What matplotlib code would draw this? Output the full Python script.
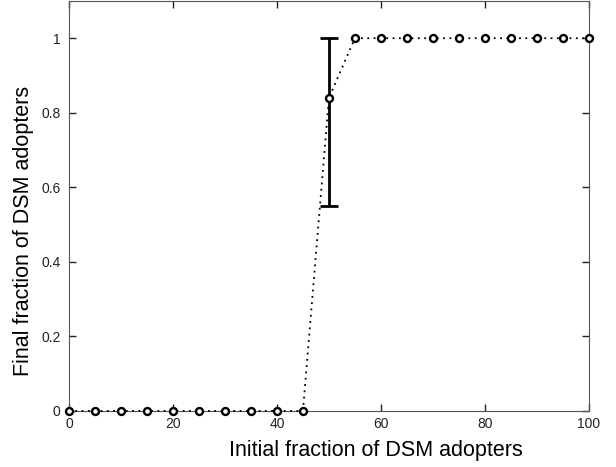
import matplotlib.pyplot as plt

plt.rcParams['font.family'] = ['Liberation Sans', 'DejaVu Sans']

x = [0, 5, 10, 15, 20, 25, 30, 35, 40, 45, 50, 55, 60, 65, 70, 75, 80, 85, 90, 95, 100]
y = [0, 0, 0, 0, 0, 0, 0, 0, 0, 0, 0.84, 1, 1, 1, 1, 1, 1, 1, 1, 1, 1]

err_x = [50]
err_y = [0.84]
err_low = [0.29]
err_high = [0.16]

fig = plt.figure(figsize=(6.16, 4.67), dpi=100)
ax = fig.add_axes([0.112, 0.120, 0.844, 0.878])

ax.plot(x, y, color='k', linestyle=(0, (1, 2.5)), linewidth=1.3,
        marker='o', markersize=5, markerfacecolor='white',
        markeredgecolor='k', markeredgewidth=1.7, clip_on=False, zorder=3)
ax.errorbar(err_x, err_y, yerr=[err_low, err_high], fmt='none',
            ecolor='k', elinewidth=2, capsize=6.5, capthick=2, zorder=2)

ax.set_xlim(0, 100)
ax.set_ylim(0, 1.1)
ax.set_xticks([0, 20, 40, 60, 80, 100])
ax.set_xticklabels(['0', '20', '40', '60', '80', '100'])
ax.set_yticks([0, 0.2, 0.4, 0.6, 0.8, 1])
ax.set_yticklabels(['0', '0.2', '0.4', '0.6', '0.8', '1'])
ax.tick_params(direction='in', length=5, width=1, top=True, right=True,
               labelsize=10, colors='#222222')
ax.tick_params(axis='y', pad=6)
ax.tick_params(axis='x', pad=4)
for s in ax.spines.values():
    s.set_color('#555555')

ax.set_xlabel('Initial fraction of DSM adopters', fontsize=15.5)
ax.set_ylabel('Final fraction of DSM adopters', fontsize=15.5)
ax.xaxis.set_label_coords(0.59, -0.072)
ax.yaxis.set_label_coords(-0.068, 0.44)

fig.savefig('out.png', dpi=100)
